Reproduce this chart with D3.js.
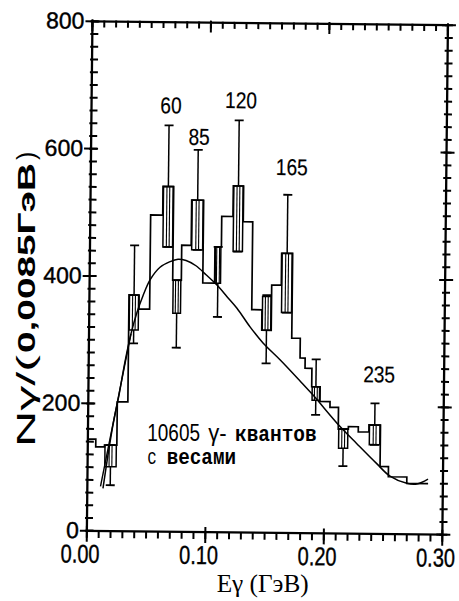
<!DOCTYPE html>
<html>
<head>
<meta charset="utf-8">
<script src="https://cdn.jsdelivr.net/npm/d3@7"></script>
<style>
  body { margin: 0; background: #fff; }
  svg { display: block; }
</style>
</head>
<body>
<svg id="chart" width="459" height="601"></svg>
<script>
// Photon energy spectrum, bins of E (GeV): left edges, last value closes the final bin
const binEdges = [0, 0.0067, 0.0141, 0.0245, 0.0334, 0.0419, 0.0509, 0.0611, 0.0701, 0.0774,
                  0.0854, 0.0955, 0.1055, 0.1109, 0.1204, 0.1291, 0.1371, 0.1457, 0.1537, 0.1618,
                  0.1711, 0.1783, 0.1826, 0.1884, 0.1955, 0.2040, 0.2112, 0.2197, 0.2281, 0.2371,
                  0.2468, 0.2539, 0.2695, 0.2875];
const counts = [144, 132, 135, 203, 371, 349, 497, 542, 395, 450,
                521, 391, 448, 496, 544, 488, 350, 318, 389, 439,
                306, 275, 259, 230, 207, 198, 164, 168, 160, 171,
                106, 90, 80];

// error bars: bin index, box range and full error range
const errBins  = [2, 4, 7, 8, 10, 12, 14, 17, 19, 23, 26, 29];
const boxLow   = [101, 316, 447, 343, 443, 391, 441, 318, 346, 209, 134, 140];
const boxHigh  = [135, 371, 542, 395, 521, 448, 544, 371, 439, 230, 164, 171];
const errLow   = [72, 295, 447, 289, 443, 338, 441, 266, 346, 186, 106, 140];
const errHigh  = [135, 449, 638, 395, 600, 448, 647, 373, 531, 273, 164, 205];

// line energies (MeV) written over the peaks
const peakNames = ["60", "85", "120", "165", "235"];
const peakE = [0.0671, 0.0911, 0.1261, 0.1696, 0.2452];
const peakN = [657, 608, 666, 562, 238];

// smooth fitted spectrum
const fitE = [0.0132, 0.0171, 0.0211, 0.0259, 0.0306, 0.0354, 0.0403, 0.0452, 0.0510, 0.0593,
              0.0677, 0.0744, 0.0812, 0.0896, 0.0982, 0.1075, 0.1161, 0.1246, 0.1358, 0.1469,
              0.1614, 0.1785, 0.1896, 0.2127, 0.2272, 0.2442, 0.2553, 0.2695, 0.2779, 0.2874];
const fitN = [67, 119, 167, 214, 266, 310, 344, 370, 395, 415,
              424, 428, 426, 418, 404, 388, 370, 352, 323, 298,
              272, 239, 217, 168, 141, 110, 91, 80, 79, 87];

// straight threshold segment at low energy
const edgeE = [0.0111, 0.0354];
const edgeN = [70, 310];

const xTicks = [0, 0.1, 0.2, 0.3];
const xTickLabels = ["0.00", "0.10", "0.20", "0.30"];
const yTicks = [0, 200, 400, 600, 800];
const yTickLabels = ["0", "200", "400", "600", "800"];

const SANS = "'Liberation Sans Narrow','Liberation Sans',Arial,sans-serif";
const SERIF = "'Liberation Serif','Times New Roman',serif";
const MONO = "'Liberation Mono','Courier New',monospace";

const L = 89.65, R = 445.15, T = 23.25, B = 532.75;
const tilt = 0.63;

const svg = d3.select("#chart");
const x = d3.scaleLinear().domain([0, 0.3]).range([L, R]);
const y = d3.scaleLinear().domain([0, 800]).range([B, T]);

const g = svg.append("g")
  .attr("transform", `rotate(${tilt},${(L + R) / 2},${(T + B) / 2})`);

const minorX = d3.range(0, 31).map(i => i / 100);
const minorY = d3.range(0, 41).map(i => i * 20);

// frame
g.append("rect")
  .attr("x", L).attr("y", T).attr("width", R - L).attr("height", B - T)
  .attr("fill", "none").attr("stroke", "#000").attr("stroke-width", 2.3);

// tick marks on all four sides, one path per set
const tickPath = (vals, seg) => vals.map(seg).join("");
const vx = (ya, yb) => d => `M${x(d)},${ya}V${yb}`;
const hy = (xa, xb) => d => `M${xa},${y(d)}H${xb}`;
const tickD = [
  tickPath(minorX, vx(B, B + 7)),
  tickPath(xTicks, vx(B - 5, B + 11)),
  tickPath(minorX, vx(T - 1, T + 6)),
  tickPath(xTicks, vx(T - 2, T + 10)),
  tickPath(minorY, hy(L - 2, L + 6)),
  tickPath(yTicks, hy(L - 7, L + 7)),
  tickPath(minorY, hy(R - 3, R + 5)),
  tickPath(yTicks, hy(R - 6, R + 8))
];
g.append("g").selectAll("path").data(tickD).join("path")
  .attr("d", d => d)
  .attr("fill", "none").attr("stroke", "#000").attr("stroke-width", 2);

// tick labels
g.append("g").selectAll("text").data(xTicks).join("text")
  .attr("x", d => x(d) - 6.5).attr("y", B + 32)
  .attr("text-anchor", "middle")
  .attr("font-family", SANS).attr("font-size", 26)
  .attr("stroke", "#000").attr("stroke-width", 0.4)
  .attr("textLength", 39).attr("lengthAdjust", "spacingAndGlyphs")
  .text((d, i) => xTickLabels[i]);
g.append("g").selectAll("text").data(yTicks).join("text")
  .attr("x", L - 8).attr("y", d => y(d) + 7.5)
  .attr("text-anchor", "end")
  .attr("font-family", SANS).attr("font-size", 23)
  .attr("stroke", "#000").attr("stroke-width", 0.4)
  .text((d, i) => yTickLabels[i]);

// histogram
const histPts = counts.map((c, i) => [binEdges[i], c]);
histPts.push([binEdges[counts.length], counts[counts.length - 1]]);
g.append("path")
  .attr("d", d3.line().x(d => x(d[0])).y(d => y(d[1])).curve(d3.curveStepAfter)(histPts))
  .attr("fill", "none").attr("stroke", "#000").attr("stroke-width", 1.7);

// error bars
const eb = g.append("g").attr("stroke", "#000").attr("fill", "none").attr("stroke-width", 1.5);
errBins.forEach((b, k) => {
  const x0 = x(binEdges[b]), x1 = x(binEdges[b + 1]);
  const cx = (x0 + x1) / 2;
  const yb0 = y(boxLow[k]), yb1 = y(boxHigh[k]);
  const ye0 = y(errLow[k]), ye1 = y(errHigh[k]);
  eb.append("rect").attr("x", x0 + 0.5).attr("y", yb1)
    .attr("width", Math.max(x1 - x0 - 1, 1)).attr("height", yb0 - yb1);
  [-1.4, 1.4].forEach(o => eb.append("line")
    .attr("x1", cx + o).attr("x2", cx + o).attr("y1", yb0).attr("y2", yb1).attr("stroke-width", 1.1));
  if (ye0 > yb0 + 0.5) eb.append("line").attr("x1", cx).attr("x2", cx).attr("y1", yb0).attr("y2", ye0);
  if (ye1 < yb1 - 0.5) eb.append("line").attr("x1", cx).attr("x2", cx).attr("y1", yb1).attr("y2", ye1);
  [ye0, ye1].forEach(yy => eb.append("line")
    .attr("x1", cx - 4.5).attr("x2", cx + 4.5).attr("y1", yy).attr("y2", yy).attr("stroke-width", 1.8));
});

// fitted curve and threshold segment
g.append("path")
  .attr("d", d3.line().x((d, i) => x(fitE[i])).y((d, i) => y(fitN[i])).curve(d3.curveCatmullRom)(fitE))
  .attr("fill", "none").attr("stroke", "#000").attr("stroke-width", 1.5);
g.append("path")
  .attr("d", d3.line().x((d, i) => x(edgeE[i])).y((d, i) => y(edgeN[i]))(edgeE))
  .attr("fill", "none").attr("stroke", "#000").attr("stroke-width", 1.4);

// peak energy labels
g.append("g").selectAll("text").data(peakNames).join("text")
  .attr("x", (d, i) => x(peakE[i])).attr("y", (d, i) => y(peakN[i]))
  .attr("text-anchor", "middle")
  .attr("font-family", SANS).attr("font-size", 23)
  .attr("stroke", "#000").attr("stroke-width", 0.2)
  .attr("textLength", d => d.length * 10.6).attr("lengthAdjust", "spacingAndGlyphs")
  .text(d => d);

// annotation
function txt(s, px, py, opts) {
  const t = svg.append("text").attr("x", px).attr("y", py)
    .attr("font-family", opts.family).attr("font-size", opts.size)
    .attr("font-weight", opts.weight || "normal").text(s);
  if (opts.len) t.attr("textLength", opts.len).attr("lengthAdjust", "spacingAndGlyphs");
  return t;
}
txt("10605", 147.3, 440.5, { family: SANS, size: 23, len: 52.7 });
txt("γ-", 208.3, 440.5, { family: SANS, size: 23, len: 18.4 });
txt("квантов", 235, 440.5, { family: MONO, size: 22, weight: "bold", len: 81.7 });
txt("с", 147.3, 464, { family: MONO, size: 22, len: 9.5 });
txt("весами", 166.7, 464, { family: MONO, size: 22, weight: "bold", len: 69.3 });

// axis titles
txt("Eγ (ГэВ)", 216.7, 592, { family: SERIF, size: 26, len: 92 });

const yt = svg.append("g").attr("transform", "translate(35,0) rotate(-90)");
yt.append("text").attr("x", -447).attr("y", 0)
  .attr("font-family", SANS).attr("font-size", 25)
  .attr("textLength", 92).attr("lengthAdjust", "spacingAndGlyphs").text("Nγ/(");
yt.append("text").attr("x", -353).attr("y", 0)
  .attr("font-family", SANS).attr("font-size", 24).attr("font-weight", "bold")
  .attr("textLength", 190).attr("lengthAdjust", "spacingAndGlyphs").text("0,0085ГэВ");
yt.append("text").attr("x", -160).attr("y", 0)
  .attr("font-family", SANS).attr("font-size", 25).text(")");
</script>
</body>
</html>
